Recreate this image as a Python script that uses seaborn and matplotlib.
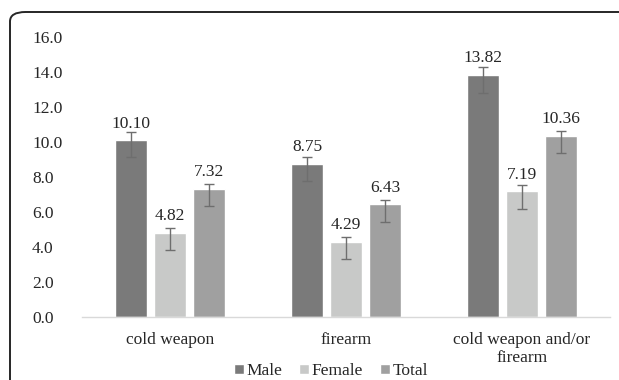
import matplotlib
matplotlib.use("Agg")
import matplotlib.pyplot as plt
from matplotlib.patches import FancyBboxPatch
import seaborn as sns
import pandas as pd
import numpy as np

categories = ["cold weapon", "firearm", "cold weapon and/or\nfirearm"]
groups = ["Male", "Female", "Total"]
male = [10.10, 8.75, 13.82]
female = [4.82, 4.29, 7.19]
total = [7.32, 6.43, 10.36]
male_lo = [9.13, 7.77, 12.78]
male_hi = [10.55, 9.16, 14.30]
female_lo = [3.83, 3.29, 6.17]
female_hi = [5.10, 4.55, 7.52]
total_lo = [6.33, 5.43, 9.35]
total_hi = [7.58, 6.67, 10.65]
yticks = [0, 2, 4, 6, 8, 10, 12, 14, 16]

sns.set_theme(style="white")
plt.rcParams["font.family"] = ["Liberation Serif", "DejaVu Serif"]

FS = 12.5
values = {"Male": male, "Female": female, "Total": total}
lows = {"Male": male_lo, "Female": female_lo, "Total": total_lo}
highs = {"Male": male_hi, "Female": female_hi, "Total": total_hi}

rows = []
for g in groups:
    for c, v in zip(categories, values[g]):
        rows.append({"category": c, "group": g, "value": v})
df = pd.DataFrame(rows)

palette = {"Male": "#7a7a7a", "Female": "#c8c9c8", "Total": "#a0a0a0"}

fig = plt.figure(figsize=(6.19, 3.80), dpi=100)
ax = fig.add_axes([82 / 619, 1 - 317 / 380, 528 / 619, 280 / 380])

sns.barplot(data=df, x="category", y="value", hue="group", order=categories,
            hue_order=groups, palette=palette, errorbar=None, width=0.665,
            gap=0.2, saturation=1, ax=ax, legend=True)

for g, cont in zip(groups, ax.containers):
    for bar, v, lo, hi in zip(cont, values[g], lows[g], highs[g]):
        xc = bar.get_x() + bar.get_width() / 2
        ax.errorbar([xc], [v], yerr=[[v - lo], [hi - v]], fmt="none",
                    ecolor="#6e6e6e", elinewidth=1.0, capsize=3.5, capthick=1.0)
        ax.annotate(f"{v:.2f}", xy=(xc, v), xytext=(0, 12),
                    textcoords="offset points", ha="center", va="center",
                    fontsize=FS, color="#262626")

ax.set_ylim(0, 16)
ax.set_xlim(-0.5, 2.5)
ax.set_yticks(yticks)
ax.set_yticklabels([f"{t:.1f}" for t in yticks], fontsize=FS, color="#262626")
ax.tick_params(axis="x", labelsize=FS, colors="#262626", length=0, pad=10.5)
ax.tick_params(axis="y", length=0, pad=36)
for lab in ax.get_yticklabels():
    lab.set_horizontalalignment("left")
for lab in ax.get_xticklabels():
    lab.set_linespacing(1.24)
ax.set_xlabel("")
ax.set_ylabel("")
for s in ["top", "right", "left"]:
    ax.spines[s].set_visible(False)
ax.spines["bottom"].set_color("#d9d9d9")
ax.spines["bottom"].set_linewidth(1.0)

handles, labels = ax.get_legend_handles_labels()
ax.legend_.remove()
fig.legend(handles, labels, loc="center", bbox_to_anchor=(331 / 619, 1 - 371 / 380),
           ncol=3, frameon=False, fontsize=FS, handlelength=0.55, handleheight=0.55,
           handletextpad=0.15, columnspacing=1.0, borderaxespad=0)

border = FancyBboxPatch((10 / 619, -0.2), 1.2, 1.2 - 12 / 380 + 0.0,
                        boxstyle="round,pad=0,rounding_size=0.025",
                        transform=fig.transFigure, fill=False,
                        edgecolor="#262626", linewidth=1.4)
fig.patches.append(border)

fig.savefig("out.png", dpi=100)
